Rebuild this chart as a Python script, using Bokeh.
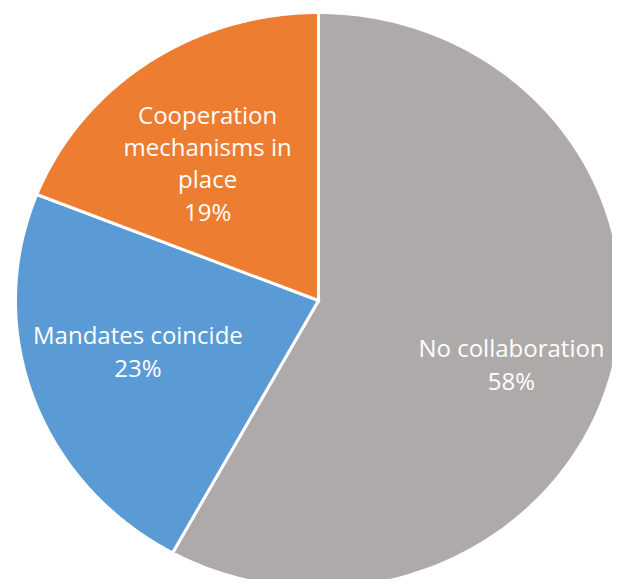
import numpy as np
from bokeh.plotting import figure
from bokeh.models import Range1d, ColumnDataSource
from bokeh.core.properties import value
from bokeh.embed import file_html
from bokeh.resources import INLINE

# ---- data ----
categories = ["No collaboration", "Mandates coincide", "Cooperation\nmechanisms in\nplace"]
shares = [58, 23, 19]
colors = ["#AEAAAA", "#5B9BD5", "#ED7D31"]

# ---- layout constants ----
W, H = 612, 579
RX, RY = 303, 288           # pie half-width / half-height in px
CX_PX, CY_PX = 318, 300     # pie centre inside the figure (px from left/top)
# label anchor as fraction of the radii (x right, y up)
label_frac = [(0.637, -0.220), (-0.596, -0.175), (-0.366, 0.479)]

p = figure(width=W, height=H, output_backend="svg", toolbar_location=None,
           x_range=Range1d(-CX_PX, W - CX_PX), y_range=Range1d(CY_PX - H, CY_PX),
           min_border=0, outline_line_color=None)
p.axis.visible = False
p.grid.visible = False
p.background_fill_color = "white"
p.border_fill_color = "white"

total = float(sum(shares))
fr = np.array(shares) / total
ends = np.cumsum(fr)
starts = ends - fr

xs, ys = [], []
for s, e in zip(starts, ends):
    th = np.linspace(s, e, 200) * 2 * np.pi  # clockwise from 12 o'clock
    xs.append([0.0] + list(RX * np.sin(th)) + [0.0])
    ys.append([0.0] + list(RY * np.cos(th)) + [0.0])

src = ColumnDataSource(dict(xs=xs, ys=ys, color=colors))
p.patches("xs", "ys", source=src, fill_color="color", line_color="white",
          line_width=3, line_join="miter")

labels = [f"{c}\n{v}%" for c, v in zip(categories, shares)]
lx = [f[0] * RX for f in label_frac]
ly = [f[1] * RY for f in label_frac]
p.text(x=lx, y=ly, text=labels, text_color="white", text_align="center",
       text_baseline="middle", text_font=value("Open Sans"),
       text_font_size="24px", text_line_height=0.98)

open("out.html", "w").write(file_html(p, INLINE))
